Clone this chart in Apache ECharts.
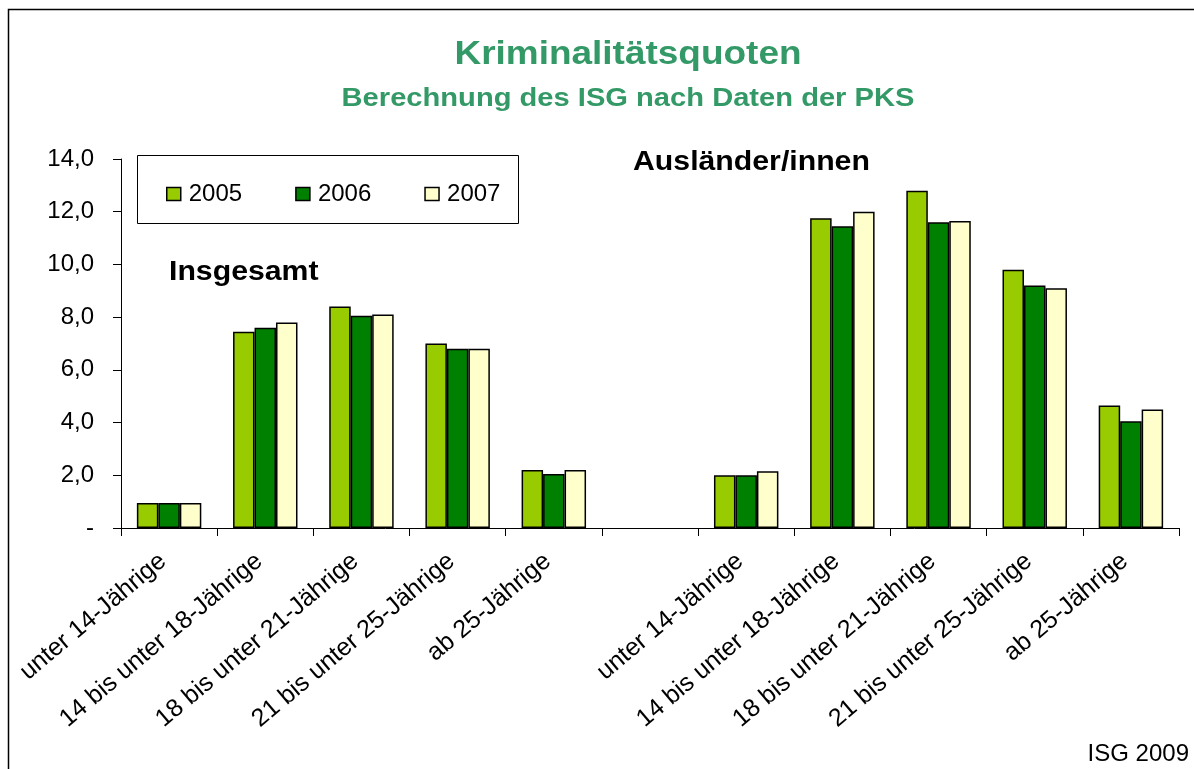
<!DOCTYPE html>
<html>
<head>
<meta charset="utf-8">
<script src="https://cdn.jsdelivr.net/npm/echarts@6/dist/echarts.min.js"></script>
<style>
  html, body { margin: 0; padding: 0; background: #fff; }
  #main { width: 1194px; height: 769px; }
</style>
</head>
<body>
<div id="main"></div>
<script>
// Altersgruppen (links Insgesamt, rechts Ausländer/innen)
var ageGroups = ['unter 14-Jährige', '14 bis unter 18-Jährige', '18 bis unter 21-Jährige', '21 bis unter 25-Jährige', 'ab 25-Jährige'];
var years = ['2005', '2006', '2007'];

// Kriminalitätsquoten Insgesamt
var insgesamt2005 = [0.95, 7.45, 8.4, 7.0, 2.2];
var insgesamt2006 = [0.95, 7.6, 8.05, 6.8, 2.05];
var insgesamt2007 = [0.95, 7.8, 8.1, 6.8, 2.2];

// Kriminalitätsquoten Ausländer/innen
var auslaender2005 = [2.0, 11.75, 12.8, 9.8, 4.65];
var auslaender2006 = [2.0, 11.45, 11.6, 9.2, 4.05];
var auslaender2007 = [2.15, 12.0, 11.65, 9.1, 4.5];

var yearColors = ['#99CC00', '#008000', '#FFFFCC'];
var font = '"Liberation Sans", Arial, sans-serif';

// leere Kategorie als Lücke zwischen den beiden Gruppen
var categories = ageGroups.concat(['']).concat(ageGroups);
var insgesamt = [insgesamt2005, insgesamt2006, insgesamt2007];
var auslaender = [auslaender2005, auslaender2006, auslaender2007];

var chart = echarts.init(document.getElementById('main'));

var series = years.map(function (y, i) {
    return {
        name: y,
        type: 'bar',
        barGap: '0%',
        barCategoryGap: '33%',
        itemStyle: {
            color: yearColors[i],
            borderColor: '#000',
            borderWidth: 1.5
        },
        data: insgesamt[i].concat([null]).concat(auslaender[i])
    };
});

var option = {
    animation: false,
    textStyle: { fontFamily: font },
    legend: {
        data: years,
        left: 161,
        top: 177,
        itemWidth: 14,
        itemHeight: 13,
        itemGap: 53,
        icon: 'rect',
        itemStyle: { borderColor: '#000', borderWidth: 1.5 },
        textStyle: { fontSize: 24, color: '#000', fontFamily: font, padding: [0, 0, 0, 3] }
    },
    grid: { left: 121, right: 15, top: 159, bottom: 241 },
    xAxis: {
        type: 'category',
        data: categories,
        axisLine: { lineStyle: { color: '#000', width: 1 } },
        axisTick: { show: true, length: 8, lineStyle: { color: '#000' } },
        axisLabel: {
            interval: 0,
            rotate: 40,
            margin: 25,
            padding: [0, 8, 0, 0],
            fontSize: 25,
            color: '#000',
            fontFamily: font
        }
    },
    yAxis: {
        type: 'value',
        min: 0,
        max: 14,
        interval: 2,
        axisLine: { show: true, lineStyle: { color: '#000', width: 1 } },
        axisTick: { show: true, length: 8, lineStyle: { color: '#000' } },
        splitLine: { show: false },
        axisLabel: {
            margin: 27,
            fontSize: 24,
            color: '#000',
            fontFamily: font,
            formatter: function (v) {
                return v === 0 ? '-' : v.toFixed(1).replace('.', ',');
            }
        }
    },
    graphic: [
        {
            type: 'rect', z: -1,
            shape: { x: 8.5, y: 9.5, width: 1300, height: 900 },
            style: { fill: '#fff', stroke: '#000', lineWidth: 1.5 }
        },
        {
            type: 'rect',
            shape: { x: 137.5, y: 155.5, width: 381, height: 68 },
            style: { fill: 'none', stroke: '#000', lineWidth: 1 }
        },
        {
            type: 'text', x: 628, y: 55, scaleX: 1.12,
            style: { text: 'Kriminalitätsquoten', font: 'bold 33px ' + font, fill: '#339966', align: 'center', verticalAlign: 'middle' }
        },
        {
            type: 'text', x: 628, y: 99, scaleX: 1.12,
            style: { text: 'Berechnung des ISG nach Daten der PKS', font: 'bold 26px ' + font, fill: '#339966', align: 'center', verticalAlign: 'middle' }
        },
        {
            type: 'text', x: 169, y: 272, scaleX: 1.08,
            style: { text: 'Insgesamt', font: 'bold 28px ' + font, fill: '#000', align: 'left', verticalAlign: 'middle' }
        },
        {
            type: 'text', x: 633, y: 162, scaleX: 1.08,
            style: { text: 'Ausländer/innen', font: 'bold 28px ' + font, fill: '#000', align: 'left', verticalAlign: 'middle' }
        },
        {
            type: 'text', x: 1189, y: 754,
            style: { text: 'ISG 2009', font: '24px ' + font, fill: '#000', align: 'right', verticalAlign: 'middle' }
        }
    ],
    series: series
};

chart.setOption(option);
</script>
</body>
</html>
